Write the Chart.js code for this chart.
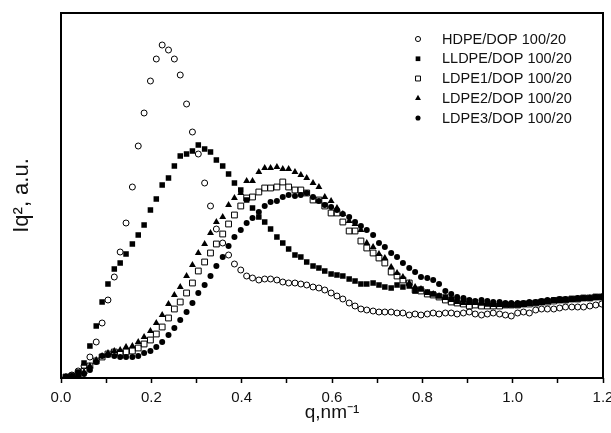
<!DOCTYPE html>
<html><head><meta charset="utf-8">
<script src="https://cdn.jsdelivr.net/npm/chart.js@4/dist/chart.umd.min.js"></script>
<style>html,body{margin:0;padding:0;background:#fff;}#wrap{width:611px;height:433px;}</style>
</head><body><div id="wrap"><canvas id="c" width="611" height="433"></canvas></div>
<script>
// scattering vector q (nm^-1), shared by all samples
const q = [0.011,0.024,0.038,0.051,0.064,0.078,0.091,0.104,0.118,0.131,
0.144,0.158,0.171,0.184,0.198,0.211,0.224,0.238,0.251,0.264,
0.278,0.291,0.304,0.318,0.331,0.344,0.358,0.371,0.384,0.398,
0.411,0.424,0.438,0.451,0.464,0.478,0.491,0.504,0.518,0.531,
0.544,0.558,0.571,0.584,0.598,0.611,0.624,0.638,0.651,0.664,
0.677,0.691,0.704,0.717,0.731,0.744,0.757,0.771,0.784,0.797,
0.811,0.824,0.837,0.851,0.864,0.877,0.891,0.904,0.917,0.931,
0.944,0.957,0.971,0.984,0.997,1.011,1.024,1.037,1.051,1.064,
1.077,1.091,1.104,1.117,1.131,1.144,1.157,1.171,1.184,1.197];

// Iq^2 (arbitrary units)
const hdpe = [1,3,7,12,21,36,55,78,101,126,
155,191,232,265,297,319,333,328,319,303,
274,246,224,195,172,149,135,123,114,108,
102,100,98,99,99,98,96,95,95,94,
93,91,90,88,85,82,79,75,72,69,
68,67,66,66,66,65,65,63,64,63,
64,65,64,65,65,64,65,66,64,63,
64,65,64,63,62,65,66,65,68,69,
69,69,70,71,71,71,71,72,73,74];

const lldpe = [1,2,6,15,32,52,76,94,109,115,
124,134,143,153,168,179,193,200,212,222,
224,227,233,229,226,218,212,204,195,188,
178,170,161,156,149,141,135,129,123,121,
116,112,110,107,104,103,102,99,97,94,
94,95,93,91,90,93,91,92,87,89,
86,84,82,81,79,78,78,77,76,75,
74,74,74,73,73,73,74,75,75,76,
77,78,78,78,79,79,80,80,81,81];

const ldpe1 = [1,2,4,7,12,17,21,24,26,25,
26,27,30,34,38,44,51,60,69,76,
85,95,107,116,125,134,144,154,163,172,
180,181,186,190,190,191,196,191,188,188,
185,178,178,172,165,165,156,147,147,137,
130,125,120,115,106,102,98,95,88,87,
84,83,81,78,76,75,74,72,73,72,
72,72,72,73,73,73,74,74,75,76,
76,77,78,78,79,79,80,80,81,81];

const ldpe2 = [1,2,3,6,12,18,22,25,27,28,
31,32,36,41,47,55,63,74,83,91,
102,113,125,134,145,156,161,173,180,185,
197,197,206,210,210,211,209,209,206,203,
200,195,191,181,177,170,164,157,154,148,
135,131,124,120,111,105,101,95,91,89,
85,84,82,80,78,76,75,75,75,75,
74,73,73,73,73,74,73,74,75,75,
76,77,77,78,78,79,79,80,80,81];

const ldpe3 = [1,1,2,4,8,16,22,23,22,21,
21,21,22,25,27,31,36,43,50,58,
66,75,85,93,102,112,121,132,141,148,
155,160,166,172,176,177,181,183,182,183,
185,181,177,173,171,168,164,161,156,152,
148,143,135,131,125,121,115,110,106,101,
100,98,94,87,84,81,80,78,77,78,
77,76,76,75,75,75,75,76,76,77,
78,78,79,79,79,80,80,80,81,81];

const seriesLabels = ['HDPE/DOP 100/20','LLDPE/DOP 100/20','LDPE1/DOP 100/20','LDPE2/DOP 100/20','LDPE3/DOP 100/20'];
const xTickLabels = ['0.0','0.2','0.4','0.6','0.8','1.0','1.2'];
const xTitle = 'q,nm\u207B\u00B9';
const yTitle = 'Iq\u00B2, a.u.';

const FONT = 'Liberation Sans, Arial, sans-serif';
const pts = ys => q.map((x, i) => ({x: x, y: ys[i]}));

const styles = [
  {pointStyle:'circle', radius:3, bg:'rgba(255,255,255,0)', bw:1},
  {pointStyle:'rect', radius:3.9, bg:'#000', bw:0},
  {pointStyle:'rect', radius:4.1, bg:'rgba(255,255,255,0)', bw:1},
  {pointStyle:'triangle', radius:4, bg:'#000', bw:0},
  {pointStyle:'circle', radius:3, bg:'#000', bw:0}
];
const seriesData = [hdpe, lldpe, ldpe1, ldpe2, ldpe3];

const datasets = seriesData.map((d, k) => ({
  label: seriesLabels[k],
  data: pts(d),
  showLine: false,
  pointStyle: styles[k].pointStyle,
  pointRadius: styles[k].radius,
  pointBackgroundColor: styles[k].bg,
  pointBorderColor: '#000',
  pointBorderWidth: styles[k].bw
}));

const framePlugin = {
  id: 'frame',
  afterDraw(chart) {
    const {ctx, chartArea: a} = chart;
    ctx.save();
    ctx.strokeStyle = '#000';
    ctx.lineWidth = 2;
    ctx.strokeRect(a.left, a.top, a.right - a.left, a.bottom - a.top);
    ctx.restore();
  }
};

function drawMarker(ctx, st, x, y) {
  ctx.save();
  ctx.fillStyle = st.bg;
  ctx.strokeStyle = '#000';
  ctx.lineWidth = st.bw || 0;
  if (Chart.helpers && Chart.helpers.drawPoint) {
    Chart.helpers.drawPoint(ctx, {pointStyle: st.pointStyle, radius: st.radius * 0.85, rotation: 0, borderWidth: st.bw}, x, y);
  } else {
    ctx.beginPath();
    ctx.arc(x, y, st.radius, 0, Math.PI * 2);
    ctx.fill();
    if (st.bw) ctx.stroke();
  }
  ctx.restore();
}

const legendPlugin = {
  id: 'insideLegend',
  afterDraw(chart) {
    const ctx = chart.ctx;
    ctx.save();
    ctx.font = '14.5px ' + FONT;
    ctx.textBaseline = 'middle';
    ctx.textAlign = 'left';
    chart.data.datasets.forEach((ds, k) => {
      const y = 39 + k * 19.75;
      drawMarker(ctx, styles[k], 418, y);
      ctx.fillStyle = '#111';
      ctx.fillText(ds.label, 442, y + 0.5);
    });
    ctx.restore();
  }
};

new Chart(document.getElementById('c'), {
  type: 'scatter',
  data: {datasets},
  options: {
    responsive: false,
    animation: false,
    devicePixelRatio: 1,
    layout: {autoPadding: false, padding: {top: 13, right: 8, left: 0, bottom: 0}},
    plugins: {legend: {display: false}, tooltip: {enabled: false}},
    scales: {
      x: {
        type: 'linear', position: 'bottom', min: 0, max: 1.2,
        ticks: {
          stepSize: 0.1, autoSkip: false, maxRotation: 0, padding: 6, color: '#111',
          font: {family: FONT, size: 15},
          callback: v => { const s = (Math.round(v * 10) / 10).toFixed(1); return xTickLabels.includes(s) ? s : ''; }
        },
        grid: {display: true, drawOnChartArea: false, drawTicks: true, tickLength: 5, tickColor: '#000', tickWidth: 1.5},
        border: {display: false},
        title: {display: true, text: xTitle, color: '#111', font: {family: FONT, size: 19}, padding: {top: 0, bottom: 9}},
        afterFit(s) { s.height = 55; s.paddingLeft = 0; s.paddingRight = 0; }
      },
      y: {
        min: 0, max: 365,
        ticks: {display: false},
        grid: {display: false, drawTicks: false},
        border: {display: false},
        title: {display: true, text: yTitle, color: '#111', font: {family: FONT, size: 22}, padding: {top: 9, bottom: 0}},
        afterFit(s) { s.width = 61; }
      }
    }
  },
  plugins: [framePlugin, legendPlugin]
});
</script>
</body></html>
